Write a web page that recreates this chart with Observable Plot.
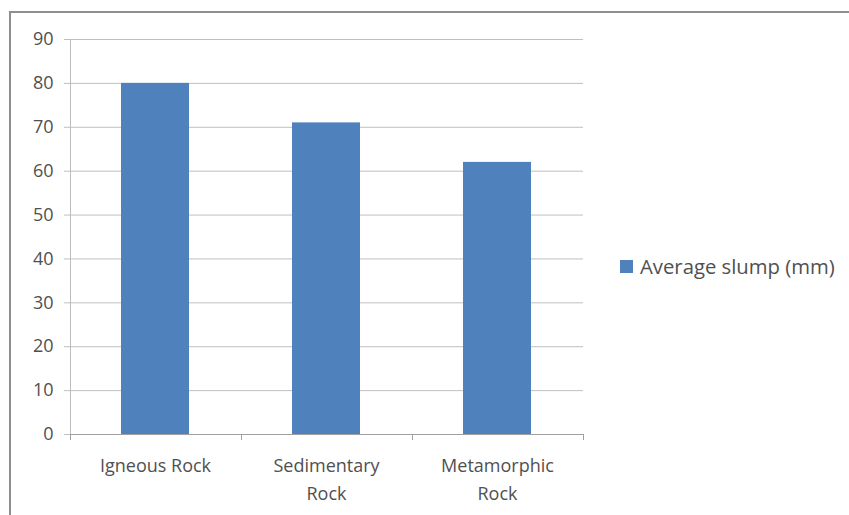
<!DOCTYPE html>
<html><head><meta charset="utf-8">
<script src="https://cdn.jsdelivr.net/npm/d3@7"></script>
<script src="https://cdn.jsdelivr.net/npm/@observablehq/plot@0.6"></script>
<style>
body{margin:0;background:#fff;}
#wrap{position:relative;width:849px;height:515px;overflow:hidden;background:#fff;font-family:"Open Sans",sans-serif;}
#frame{position:absolute;left:9px;top:11px;width:900px;height:600px;border-left:2px solid #8e8e8e;border-top:2px solid #8e8e8e;box-sizing:border-box;}
#chart{position:absolute;left:0;top:0;}
#legend{position:absolute;left:620px;top:252px;display:flex;align-items:center;font-size:20.3px;color:#505050;}
#legend .sw{width:13px;height:13px;background:#4F81BD;margin-right:7px;}
</style></head>
<body><div id="wrap"><div id="frame"></div><div id="chart"></div>
<div id="legend"><div class="sw"></div><span id="ltext"></span></div></div>
<script>
const categories = ["Igneous Rock", "Sedimentary Rock", "Metamorphic Rock"];
const values = [80, 71, 62];
const tickLabels = ["Igneous Rock", "Sedimentary\nRock", "Metamorphic\nRock"];
const yTicks = [0, 10, 20, 30, 40, 50, 60, 70, 80, 90];
const seriesName = "Average slump (mm)";
const barColor = "#4F81BD";

const data = categories.map((c, i) => ({cat: c, value: values[i]}));
const labelOf = new Map(categories.map((c, i) => [c, tickLabels[i]]));

document.getElementById("ltext").textContent = seriesName;

// Excel-style axis lines with category boundary ticks
function axisFrame(index, scales, values, dim) {
  const g = d3.create("svg:g");
  const x0 = dim.marginLeft, x1 = dim.width - dim.marginRight;
  const yb = dim.height - dim.marginBottom, yt = dim.marginTop;
  const n = categories.length, step = (x1 - x0) / n;
  g.append("line").attr("x1", x0 + 0.5).attr("x2", x0 + 0.5).attr("y1", yt).attr("y2", yb)
    .attr("stroke", "#bdbdbd");
  g.append("line").attr("x1", x0).attr("x2", x1).attr("y1", yb + 0.5).attr("y2", yb + 0.5)
    .attr("stroke", "#a0a0a0");
  for (let i = 0; i <= n; i++) {
    const x = Math.round(x0 + i * step) + 0.5;
    g.append("line").attr("x1", x).attr("x2", x).attr("y1", yb).attr("y2", yb + 6)
      .attr("stroke", "#a0a0a0");
  }
  return g.node();
}

const chart = Plot.plot({
  width: 849,
  height: 515,
  marginLeft: 70,
  marginRight: 266,
  marginTop: 39,
  marginBottom: 81,
  style: {fontFamily: "'Open Sans', sans-serif", fontSize: "18px", color: "#595959", background: "transparent"},
  x: {domain: categories, paddingInner: 0.6, paddingOuter: 0.3, label: null},
  y: {domain: [0, 90], label: null},
  marks: [
    Plot.gridY(yTicks.filter(d => d > 0), {stroke: "#bfbfbf", strokeOpacity: 1}),
    Plot.barY(data, {x: "cat", y: "value", fill: barColor}),
    Plot.axisY(yTicks, {tickSize: 6, tickPadding: 11, stroke: "#bfbfbf", fill: "#505050", label: null}),
    Plot.axisX({tickSize: 0, tickPadding: 18, tickFormat: d => labelOf.get(d), lineHeight: 1.55, fill: "#505050", label: null}),
    axisFrame
  ]
});
document.getElementById("chart").appendChild(chart);
</script></body></html>
